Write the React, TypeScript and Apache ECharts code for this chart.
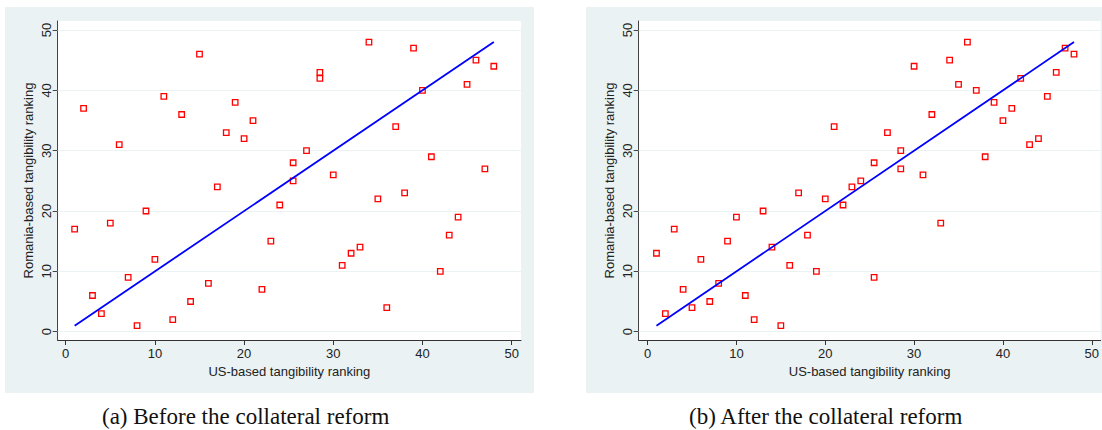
import React, { useEffect, useRef } from "react";
import * as echarts from "echarts";

// US-based ranking (x) and Romania-based ranking (y), before the reform
const beforeUS = [1, 2, 3, 4, 5, 6, 7, 8, 9, 10, 11, 12, 13, 14, 15, 16, 17, 18, 19, 20, 21, 22, 23, 24, 25.5, 25.5, 27, 28.5, 28.5, 30, 31, 32, 33, 34, 35, 36, 37, 38, 39, 40, 41, 42, 43, 44, 45, 46, 47, 48];
const beforeRO = [17, 37, 6, 3, 18, 31, 9, 1, 20, 12, 39, 2, 36, 5, 46, 8, 24, 33, 38, 32, 35, 7, 15, 21, 28, 25, 30, 43, 42, 26, 11, 13, 14, 48, 22, 4, 34, 23, 47, 40, 29, 10, 16, 19, 41, 45, 27, 44];

// after the reform
const afterUS = [1, 2, 3, 4, 5, 6, 7, 8, 9, 10, 11, 12, 13, 14, 15, 16, 17, 18, 19, 20, 21, 22, 23, 24, 25.5, 25.5, 27, 28.5, 28.5, 30, 31, 32, 33, 34, 35, 36, 37, 38, 39, 40, 41, 42, 43, 44, 45, 46, 47, 48];
const afterRO = [13, 3, 17, 7, 4, 12, 5, 8, 15, 19, 6, 2, 20, 14, 1, 11, 23, 16, 10, 22, 34, 21, 24, 25, 28, 9, 33, 30, 27, 44, 26, 36, 18, 45, 41, 48, 40, 29, 38, 35, 37, 42, 31, 32, 39, 43, 47, 46];

// 45-degree reference line endpoints
const lineX = [1, 48];
const lineY = [1, 48];

const xTicks = [0, 10, 20, 30, 40, 50];
const yTicks = [0, 10, 20, 30, 40, 50];

const xTitle = "US-based tangibility ranking";
const yTitle = "Romania-based tangibility ranking";
const captions = ["(a) Before the collateral reform", "(b) After the collateral reform"];

const BG = "#EAF2F3";
const labelFont = { fontFamily: "Liberation Sans, Arial, sans-serif", fontSize: 13, color: "#222" };

export default function App() {
  const ref = useRef<HTMLDivElement>(null);
  useEffect(() => {
    if (!ref.current) return;
    const chart = echarts.init(ref.current, undefined, { renderer: "svg" });
    const pairs = (xs: number[], ys: number[]) => xs.map((x, i) => [x, ys[i]]);

    const mkX = (gridIndex: number, min: number, max: number) => ({
      type: "value",
      gridIndex,
      min,
      max,
      name: xTitle,
      nameLocation: "middle",
      nameGap: 21,
      nameTextStyle: { ...labelFont },
      axisLine: { show: true, onZero: false, lineStyle: { color: "#333", width: 1 } },
      axisTick: { show: true, customValues: xTicks, length: 5, lineStyle: { color: "#333" } },
      axisLabel: { show: true, customValues: xTicks, margin: 7, ...labelFont },
      splitLine: { show: false },
    });
    const mkY = (gridIndex: number) => ({
      type: "value",
      gridIndex,
      min: -1.38,
      max: 51.5,
      name: yTitle,
      nameLocation: "middle",
      nameGap: 23,
      nameTextStyle: { ...labelFont },
      axisLine: { show: true, onZero: false, lineStyle: { color: "#444", width: 1 } },
      axisTick: { show: true, customValues: yTicks, length: 5, lineStyle: { color: "#444" } },
      axisLabel: { show: true, customValues: yTicks, rotate: 90, margin: 5, ...labelFont },
      splitLine: { show: false },
    });

    const mkGrid = (idx: number) => ({
      type: "scatter",
      xAxisIndex: idx,
      yAxisIndex: idx,
      data: [],
      silent: true,
      z: 1,
      markLine: {
        z: 1,
        silent: true,
        symbol: "none",
        label: { show: false },
        lineStyle: { color: BG, width: 1.2, type: "solid" },
        data: yTicks.map((v) => ({ yAxis: v })),
      },
    });

    const mkScatter = (idx: number, xs: number[], ys: number[]) => ({
      type: "scatter",
      xAxisIndex: idx,
      yAxisIndex: idx,
      symbol: "rect",
      symbolSize: 5.5,
      itemStyle: { color: "rgba(0,0,0,0)", borderColor: "#ff0000", borderWidth: 1.3, opacity: 1 },
      data: pairs(xs, ys),
      z: 3,
    });
    const mkLine = (idx: number) => ({
      type: "line",
      xAxisIndex: idx,
      yAxisIndex: idx,
      symbol: "none",
      lineStyle: { color: "#0000ff", width: 1.8 },
      data: pairs(lineX, lineY),
      z: 4,
    });

    const captionStyle = {
      fontFamily: "Liberation Serif, Times New Roman, serif",
      fontSize: 23,
      fill: "#111",
      textAlign: "left",
      textVerticalAlign: "middle",
    };

    chart.setOption({
      animation: false,
      graphic: [
        { type: "rect", shape: { x: 5, y: 7, width: 529, height: 386 }, style: { fill: BG }, z: -10 },
        { type: "rect", shape: { x: 586, y: 7, width: 520, height: 386 }, style: { fill: BG }, z: -10 },
        { type: "text", x: 102, y: 416, style: { text: captions[0], ...captionStyle } },
        { type: "text", x: 689, y: 416, style: { text: captions[1], ...captionStyle } },
      ],
      grid: [
        { left: 57.7, top: 21, width: 463.3, height: 319, show: true, backgroundColor: "#fff", borderWidth: 0 },
        { left: 638.7, top: 21, width: 463.3, height: 319, show: true, backgroundColor: "#fff", borderWidth: 0 },
      ],
      xAxis: [mkX(0, -0.9, 51.05), mkX(1, -1.0, 51.0)],
      yAxis: [mkY(0), mkY(1)],
      series: [
        mkGrid(0),
        mkScatter(0, beforeUS, beforeRO),
        mkLine(0),
        mkGrid(1),
        mkScatter(1, afterUS, afterRO),
        mkLine(1),
      ],
    });
    return () => chart.dispose();
  }, []);
  return (
    <div
      ref={ref}
      style={{ position: "absolute", left: 0, top: 0, width: 1102, height: 430 }}
    />
  );
}
